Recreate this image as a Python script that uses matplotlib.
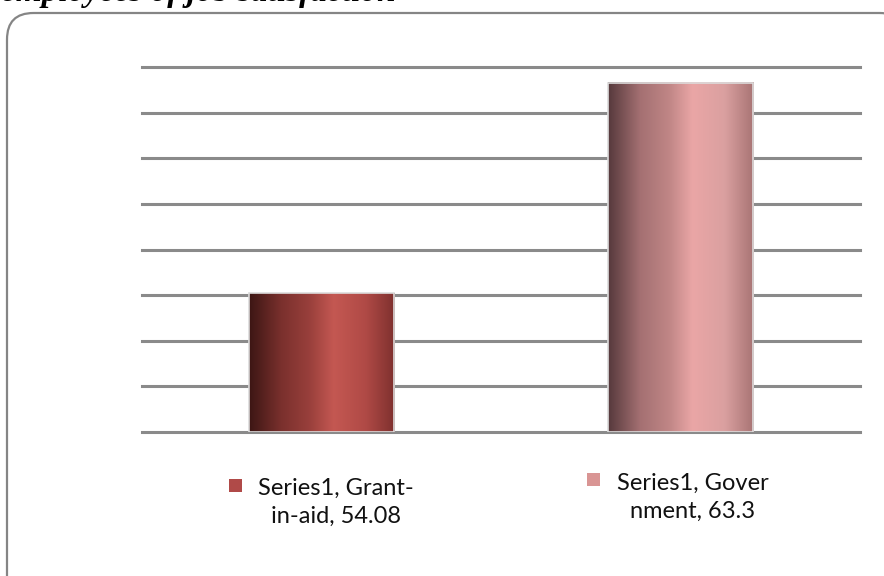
import numpy as np
import matplotlib
matplotlib.use('Agg')
import matplotlib.pyplot as plt
from matplotlib.colors import LinearSegmentedColormap
from matplotlib.patches import FancyBboxPatch, Rectangle

# chart data
categories = ['Grant-in-aid', 'Government']
values = [54.08, 63.3]
label_lines = [['Series1, Grant-', 'in-aid, 54.08'], ['Series1, Gover', 'nment, 63.3']]
key_colors = ['#b04a48', '#d99594']
y_ticks = np.arange(48, 65, 2)

# shaded fills for each bar, left to right
bar_shades = [
    ['#3c1614', '#7a302d', '#9a403c', '#c45852', '#b04a46', '#7e302e'],
    ['#56393c', '#a47072', '#c08686', '#eaa6a6', '#daa0a0', '#a87474'],
]
shade_pos = [0.0, 0.22, 0.42, 0.58, 0.8, 1.0]

fig = plt.figure(figsize=(8.84, 5.76), dpi=100)
W, H = 884, 576

# outer frame with rounded corners, running off the right and bottom edges
frame = FancyBboxPatch((7 / W, -0.06), 1.017, 1 - 13 / H + 0.06,
                       boxstyle='round,pad=0,rounding_size=0.03',
                       mutation_aspect=W / H, transform=fig.transFigure,
                       facecolor='white', edgecolor='#858585', lw=1.6, zorder=-5)
fig.patches.append(frame)

# heading line, only its lower part falls on the page
fig.text(396 / W, 1 - 0.5 / H, 'Level of employees of job satisfaction', fontsize=24,
         family='Liberation Serif', weight='bold', style='italic',
         ha='right', va='baseline')

ax = fig.add_axes([142 / W, 1 - 432 / H, 718 / W, 365 / H])
ax.set_facecolor('none')
for s in ax.spines.values():
    s.set_visible(False)
ax.set_xticks([])
ax.set_yticks([])

for t in y_ticks:
    ax.axhline(t, color='#8a8a8a', lw=2.2, clip_on=False, zorder=1)

bar_w = 0.404
grad = np.linspace(0, 1, 256).reshape(1, -1)
for i, v in enumerate(values):
    x0 = i - bar_w / 2
    cmap = LinearSegmentedColormap.from_list('b%d' % i, list(zip(shade_pos, bar_shades[i])))
    ax.imshow(grad, cmap=cmap, aspect='auto', extent=[x0, x0 + bar_w, y_ticks[0], v],
              interpolation='bicubic', zorder=3)
    ax.add_patch(Rectangle((x0, y_ticks[0]), bar_w, v - y_ticks[0], fill=False,
                           edgecolor='#dcdcdc', lw=1.2, zorder=4))
ax.set_xlim(-0.5, 1.5)
ax.set_ylim(y_ticks[0], y_ticks[-1])

# data labels below the plot, each with its colour key
label_pos = [(336, 523, 229, 479), (693, 518, 587, 473)]
for (cx, by, kx, ky), lines, kc in zip(label_pos, label_lines, key_colors):
    fig.text(cx / W, 1 - by / H, '\n'.join(lines), fontsize=17, family='Lato',
             ha='center', va='baseline', multialignment='center', linespacing=1.4,
             color='#111111')
    fig.patches.append(Rectangle((kx / W, 1 - (ky + 13) / H), 13 / W, 13 / H,
                                 transform=fig.transFigure, facecolor=kc,
                                 edgecolor='none'))

fig.savefig('out.png', dpi=100)
